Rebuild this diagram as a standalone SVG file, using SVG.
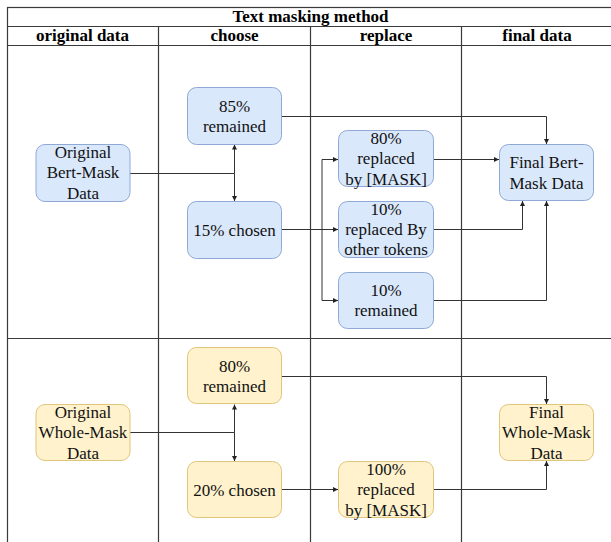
<svg xmlns="http://www.w3.org/2000/svg" width="611" height="542" viewBox="0 0 611 542">
<defs>
<style>
text{font-family:'Liberation Serif','DejaVu Serif','Times New Roman',serif}
.grid{stroke:#3a3a3a;stroke-width:1.2;fill:none}
.hdr{font-weight:bold;font-size:17px;text-anchor:middle;fill:#000}
.blue{fill:#dae8fc;stroke:#8fa9d6;stroke-width:1}
.yel{fill:#fff2cc;stroke:#e0c67a;stroke-width:1}
.t{font-size:17px;text-anchor:middle;dominant-baseline:central;fill:#111}
.c{stroke:#333;stroke-width:1;fill:none;marker-end:url(#ah)}
.cn{stroke:#333;stroke-width:1;fill:none}
</style>
<marker id="ah" viewBox="0 0 10 10" refX="10" refY="5" markerWidth="5" markerHeight="5" markerUnits="userSpaceOnUse" orient="auto">
<path d="M0,0 L10,5 L0,10 z" fill="#222"/>
</marker>
</defs>
<rect width="611" height="542" fill="#fff"/>
<g id="table">
<rect class="grid" x="7.5" y="7.5" width="606" height="545"/>
<line class="grid" x1="7" y1="26.5" x2="614" y2="26.5"/>
<line class="grid" x1="7" y1="45.5" x2="614" y2="45.5"/>
<line class="grid" x1="7" y1="338.5" x2="614" y2="338.5"/>
<line class="grid" x1="158.5" y1="26" x2="158.5" y2="542"/>
<line class="grid" x1="310.5" y1="26" x2="310.5" y2="542"/>
<line class="grid" x1="461.5" y1="26" x2="461.5" y2="542"/>
<text class="hdr" x="310.5" y="21.5" font-family="Liberation Serif, serif">Text masking method</text>
<text class="hdr" x="82.5" y="40.5" font-family="Liberation Serif, serif">original data</text>
<text class="hdr" x="234.5" y="40.5" font-family="Liberation Serif, serif">choose</text>
<text class="hdr" x="386" y="40.5" font-family="Liberation Serif, serif">replace</text>
<text class="hdr" x="537" y="40.5" font-family="Liberation Serif, serif">final data</text>
</g>
<g id="connectors">
<path class="cn" d="M130,173.5 H234.5"/>
<path class="c" d="M234.5,173.5 V144.5"/>
<path class="c" d="M234.5,173.5 V201"/>
<path class="c" d="M282,116.5 H546.5 V144"/>
<path class="c" d="M282,229.5 H338"/>
<path class="cn" d="M322,159.5 V300.5"/>
<path class="c" d="M322,159.5 H338"/>
<path class="c" d="M322,300.5 H338"/>
<path class="c" d="M433,159.5 H499"/>
<path class="c" d="M433,229.5 H522.5 V201"/>
<path class="c" d="M433,300.5 H546.5 V201"/>
<path class="cn" d="M130,432.5 H234.5"/>
<path class="c" d="M234.5,432.5 V404.5"/>
<path class="c" d="M234.5,432.5 V461"/>
<path class="c" d="M282,376.5 H546.5 V404"/>
<path class="c" d="M282,489.5 H338"/>
<path class="c" d="M433,489.5 H546.5 V461"/>
</g>
<g id="orig-bert"><rect class="blue" x="36" y="144.5" width="94" height="57" rx="9"/>
<text class="t" x="83" y="152">Original</text><text class="t" x="83" y="172.5">Bert-Mask</text><text class="t" x="83" y="193">Data</text></g>
<g id="bert-85"><rect class="blue" x="187.5" y="87.5" width="94" height="57" rx="9"/>
<text class="t" x="234.5" y="106">85%</text><text class="t" x="234.5" y="126">remained</text></g>
<g id="bert-15"><rect class="blue" x="187.5" y="201.5" width="94" height="57" rx="9"/>
<text class="t" x="234.5" y="230">15% chosen</text></g>
<g id="bert-80"><rect class="blue" x="338.5" y="130.5" width="95" height="56" rx="9"/>
<text class="t" x="386" y="138.5">80%</text><text class="t" x="386" y="158.5">replaced</text><text class="t" x="386" y="179">by [MASK]</text></g>
<g id="bert-10r"><rect class="blue" x="338.5" y="201.5" width="95" height="56" rx="9"/>
<text class="t" x="386" y="209.5">10%</text><text class="t" x="386" y="229.5">replaced By</text><text class="t" x="386" y="249.5">other tokens</text></g>
<g id="bert-10k"><rect class="blue" x="338.5" y="272.5" width="95" height="56" rx="9"/>
<text class="t" x="386" y="290.5">10%</text><text class="t" x="386" y="310.5">remained</text></g>
<g id="final-bert"><rect class="blue" x="499.5" y="144.5" width="94" height="56" rx="9"/>
<text class="t" x="546.5" y="162">Final Bert-</text><text class="t" x="546.5" y="183">Mask Data</text></g>
<g id="orig-whole"><rect class="yel" x="36" y="404.5" width="94" height="56" rx="9"/>
<text class="t" x="83" y="412">Original</text><text class="t" x="83" y="432.5">Whole-Mask</text><text class="t" x="83" y="453">Data</text></g>
<g id="whole-80"><rect class="yel" x="187.5" y="347.5" width="94" height="56" rx="9"/>
<text class="t" x="234.5" y="366">80%</text><text class="t" x="234.5" y="386">remained</text></g>
<g id="whole-20"><rect class="yel" x="187.5" y="461.5" width="94" height="56" rx="9"/>
<text class="t" x="234.5" y="490">20% chosen</text></g>
<g id="whole-100"><rect class="yel" x="338.5" y="461.5" width="95" height="56" rx="9"/>
<text class="t" x="386" y="469.5">100%</text><text class="t" x="386" y="489.5">replaced</text><text class="t" x="386" y="510">by [MASK]</text></g>
<g id="final-whole"><rect class="yel" x="499.5" y="404.5" width="94" height="56" rx="9"/>
<text class="t" x="546.5" y="412">Final</text><text class="t" x="546.5" y="432.5">Whole-Mask</text><text class="t" x="546.5" y="453">Data</text></g>
</svg>
